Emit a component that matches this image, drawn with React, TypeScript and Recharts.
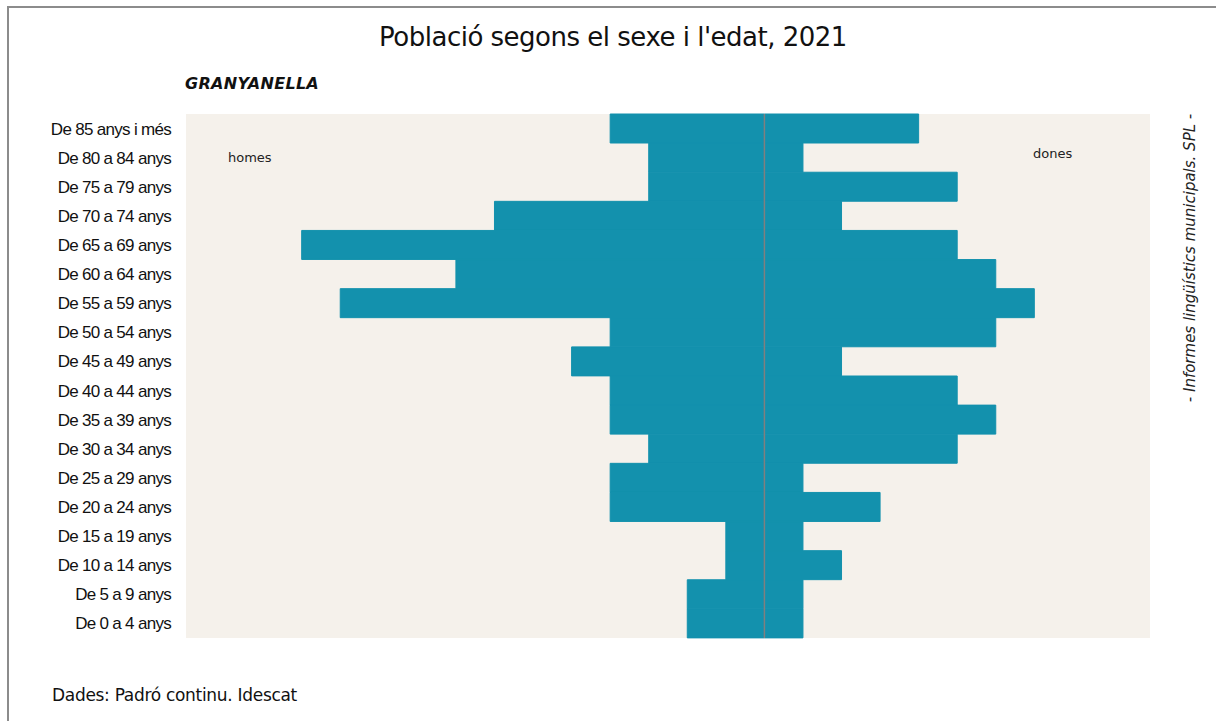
import React from 'react';
import {
  BarChart,
  Bar,
  XAxis,
  YAxis,
  CartesianGrid,
  ReferenceLine
} from 'recharts';

// age groups, top to bottom
const ageGroups = [
  'De 85 anys i més',
  'De 80 a 84 anys',
  'De 75 a 79 anys',
  'De 70 a 74 anys',
  'De 65 a 69 anys',
  'De 60 a 64 anys',
  'De 55 a 59 anys',
  'De 50 a 54 anys',
  'De 45 a 49 anys',
  'De 40 a 44 anys',
  'De 35 a 39 anys',
  'De 30 a 34 anys',
  'De 25 a 29 anys',
  'De 20 a 24 anys',
  'De 15 a 19 anys',
  'De 10 a 14 anys',
  'De 5 a 9 anys',
  'De 0 a 4 anys'
];

const homes = [4, 3, 3, 7, 12, 8, 11, 4, 5, 4, 4, 3, 4, 4, 1, 1, 2, 2];
const dones = [4, 1, 5, 2, 5, 6, 7, 6, 2, 5, 6, 5, 1, 3, 1, 2, 1, 1];

const data = ageGroups.map((name, i) => ({
  name,
  homes: -homes[i],
  dones: dones[i]
}));

const BAR_COLOR = '#1391ad';
const PLOT_BG = '#f5f1eb';

const App: React.FunctionComponent = () => {
  return (
    <div
      style={{
        position: 'absolute',
        left: 0,
        top: 0,
        width: 1216,
        height: 721,
        background: '#fff',
        overflow: 'hidden'
      }}
    >
      <div
        style={{
          position: 'absolute',
          left: 7,
          top: 6,
          width: 1230,
          height: 740,
          borderLeft: '2px solid #8c8c8c',
          borderTop: '2px solid #8c8c8c'
        }}
      />
      <div
        style={{
          position: 'absolute',
          left: 0,
          top: 22,
          width: 1226,
          textAlign: 'center',
          fontFamily: 'DejaVu Sans',
          fontSize: 26,
          letterSpacing: -0.5,
          color: '#111'
        }}
      >
        Població segons el sexe i l'edat, 2021
      </div>
      <div
        style={{
          position: 'absolute',
          left: 185,
          top: 74,
          fontFamily: 'DejaVu Sans',
          fontSize: 16,
          fontWeight: 'bold',
          fontStyle: 'italic',
          letterSpacing: 0.3,
          color: '#111'
        }}
      >
        GRANYANELLA
      </div>
      <BarChart
        width={1216}
        height={721}
        data={data}
        layout="vertical"
        stackOffset="sign"
        barCategoryGap={0}
        margin={{ top: 114, right: 66, left: 0, bottom: 83 }}
      >
        <CartesianGrid
          fill={PLOT_BG}
          horizontal={false}
          vertical={false}
          stroke="none"
        />
        <XAxis type="number" domain={[-15, 10]} hide />
        <YAxis
          type="category"
          dataKey="name"
          width={186}
          axisLine={false}
          tickLine={false}
          tickSize={0}
          tickMargin={15}
          interval={0}
          tick={{
            fill: '#111',
            fontSize: 17,
            fontFamily: 'Liberation Sans',
            letterSpacing: -0.7
          }}
        />
        <Bar
          dataKey="homes"
          stackId="a"
          fill={BAR_COLOR}
          stroke={BAR_COLOR}
          strokeWidth={1}
          isAnimationActive={false}
        />
        <Bar
          dataKey="dones"
          stackId="a"
          fill={BAR_COLOR}
          stroke={BAR_COLOR}
          strokeWidth={1}
          isAnimationActive={false}
        />
        <ReferenceLine x={0} stroke="#808080" strokeWidth={1.5} />
      </BarChart>
      <div
        style={{
          position: 'absolute',
          left: 228,
          top: 150,
          fontFamily: 'DejaVu Sans',
          fontSize: 13,
          color: '#222'
        }}
      >
        homes
      </div>
      <div
        style={{
          position: 'absolute',
          left: 1033,
          top: 146,
          fontFamily: 'DejaVu Sans',
          fontSize: 13,
          color: '#222'
        }}
      >
        dones
      </div>
      <div
        style={{
          position: 'absolute',
          left: 1190,
          top: 258,
          transform: 'translate(-50%, -50%) rotate(-90deg)',
          whiteSpace: 'nowrap',
          fontFamily: 'DejaVu Sans',
          fontStyle: 'italic',
          fontSize: 15,
          color: '#222'
        }}
      >
        - Informes lingüístics municipals. SPL -
      </div>
      <div
        style={{
          position: 'absolute',
          left: 52,
          top: 685,
          fontFamily: 'DejaVu Sans',
          fontSize: 17,
          letterSpacing: -0.3,
          color: '#111'
        }}
      >
        Dades: Padró continu. Idescat
      </div>
    </div>
  );
};

export default App;
